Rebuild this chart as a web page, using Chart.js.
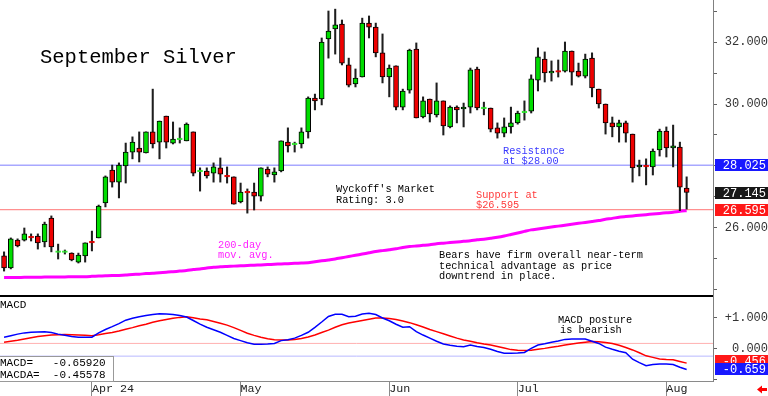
<!DOCTYPE html>
<html><head><meta charset="utf-8">
<script src="https://cdn.jsdelivr.net/npm/chart.js@4.4.1/dist/chart.umd.min.js"></script>
<style>
html,body{margin:0;padding:0;background:#fff;}
#wrap{position:relative;width:768px;height:396px;overflow:hidden;background:#fff;}
canvas{position:absolute;left:0;}
#c1{top:0;width:768px;height:297px;}
#c2{top:297px;width:768px;height:99px;}
</style></head><body>
<div id="wrap"><canvas id="c1" width="768" height="297"></canvas><canvas id="c2" width="768" height="99"></canvas></div>
<script>
// ---- data (index = trading day, Mar 12 .. Aug 6, 2024) ----
const monthTicks  = [13, 35, 57, 76, 98];
const monthLabels = ["Apr 24", "May", "Jun", "Jul", "Aug"];

const open = [
25.10, 24.71, 25.61, 25.61, 25.73, 25.74, 25.55, 26.32, 25.21, 25.21,
25.19, 24.90, 25.10, 25.57, 25.68, 26.81, 27.87, 27.48, 28.00, 28.45,
28.58, 28.42, 29.10, 28.77, 29.61, 28.74, 28.85, 28.81, 29.10, 27.82,
27.84, 27.77, 27.94, 27.70, 27.65, 26.84, 27.18, 27.16, 27.03, 27.90,
27.71, 27.84, 28.77, 28.69, 28.71, 29.10, 30.19, 30.16, 32.10, 32.42,
32.58, 31.26, 30.65, 30.87, 32.61, 32.48, 31.65, 30.87, 31.23, 29.90,
30.45, 31.77, 29.58, 30.16, 29.65, 30.10, 29.26, 29.90, 29.84, 29.90,
31.13, 29.85, 29.87, 29.23, 29.06, 29.26, 29.39, 29.72, 29.77, 30.77,
31.45, 31.00, 31.08, 31.06, 31.71, 31.06, 30.90, 31.48, 30.48, 30.00,
29.39, 29.26, 29.39, 29.03, 27.97, 28.02, 27.97, 28.52, 29.13, 28.58,
28.61, 27.29];
const high = [
25.23, 25.68, 25.65, 26.00, 25.81, 25.81, 26.19, 26.39, 25.48, 25.29,
25.20, 25.19, 25.52, 25.90, 26.74, 27.68, 28.03, 28.10, 28.74, 28.94,
29.10, 29.10, 30.48, 29.45, 29.61, 29.42, 29.23, 29.39, 29.10, 27.94,
27.94, 28.10, 28.26, 27.97, 27.65, 27.45, 27.26, 27.45, 27.94, 27.97,
27.94, 28.81, 29.23, 28.77, 29.23, 30.23, 30.32, 32.13, 33.00, 33.06,
32.71, 31.48, 31.13, 32.77, 32.84, 32.61, 32.26, 31.26, 31.23, 30.48,
31.77, 31.97, 30.23, 30.16, 30.68, 30.10, 29.94, 29.94, 30.03, 31.16,
31.19, 30.06, 29.87, 29.39, 29.55, 29.90, 29.77, 30.10, 30.94, 31.81,
31.68, 31.39, 31.42, 32.00, 31.71, 31.32, 31.61, 31.65, 30.48, 30.00,
29.58, 29.48, 29.45, 29.03, 28.19, 28.23, 28.55, 29.19, 29.26, 29.32,
28.77, 27.65];
const low = [
24.61, 24.68, 25.39, 25.58, 25.58, 25.32, 25.39, 25.23, 25.00, 25.16,
24.94, 24.87, 24.90, 25.26, 25.68, 26.68, 27.32, 26.97, 27.45, 28.23,
28.13, 28.42, 28.58, 28.23, 28.58, 28.71, 28.74, 28.81, 27.68, 27.19,
27.61, 27.48, 27.48, 27.45, 26.77, 26.81, 26.48, 26.58, 26.87, 27.65,
27.48, 27.81, 28.45, 28.45, 28.58, 28.90, 29.81, 29.97, 31.48, 31.61,
31.26, 30.55, 30.55, 30.87, 32.13, 31.52, 30.68, 30.23, 29.81, 29.81,
30.35, 29.55, 29.55, 29.42, 29.58, 29.00, 29.23, 29.39, 29.26, 29.71,
29.81, 29.65, 29.10, 28.90, 28.94, 29.06, 29.35, 29.48, 29.71, 30.42,
30.71, 30.74, 30.87, 31.03, 30.61, 30.87, 30.84, 30.23, 29.87, 29.03,
28.94, 28.77, 28.77, 27.48, 27.68, 27.39, 27.71, 28.32, 28.29, 27.97,
26.56, 26.61];
const close = [
24.71, 25.65, 25.42, 25.81, 25.68, 25.52, 26.13, 25.39, 25.26, 25.26,
24.97, 25.13, 25.52, 25.52, 26.71, 27.65, 27.48, 28.03, 28.45, 28.77,
28.45, 29.10, 28.71, 29.45, 28.77, 28.87, 28.90, 29.35, 27.77, 27.87,
27.68, 27.97, 27.74, 27.65, 26.77, 27.16, 27.13, 27.03, 27.94, 27.74,
27.81, 28.81, 28.65, 28.74, 29.10, 30.19, 30.10, 32.00, 32.35, 32.55,
31.32, 30.61, 30.84, 32.61, 32.48, 31.65, 30.87, 31.16, 29.90, 30.42,
31.74, 29.55, 30.10, 29.68, 30.10, 29.29, 29.90, 29.81, 29.90, 31.10,
29.87, 29.90, 29.19, 29.06, 29.26, 29.39, 29.71, 29.77, 30.81, 31.52,
31.00, 31.06, 31.03, 31.71, 31.03, 30.90, 31.45, 30.52, 30.00, 29.39,
29.26, 29.39, 29.06, 27.94, 28.03, 27.97, 28.48, 29.13, 28.58, 28.65,
27.32, 27.145];
const ma200 = [
24.40, 24.40, 24.40, 24.41, 24.41, 24.41, 24.42, 24.42, 24.42, 24.42,
24.43, 24.43, 24.43, 24.44, 24.45, 24.46, 24.47, 24.47, 24.48, 24.50,
24.51, 24.53, 24.54, 24.56, 24.57, 24.59, 24.61, 24.63, 24.66, 24.68,
24.71, 24.73, 24.75, 24.76, 24.77, 24.78, 24.79, 24.80, 24.81, 24.82,
24.83, 24.84, 24.85, 24.86, 24.87, 24.88, 24.91, 24.94, 24.97, 25.00,
25.04, 25.08, 25.12, 25.16, 25.20, 25.24, 25.27, 25.30, 25.33, 25.37,
25.40, 25.42, 25.44, 25.46, 25.49, 25.51, 25.53, 25.55, 25.57, 25.59,
25.62, 25.64, 25.67, 25.70, 25.74, 25.79, 25.84, 25.89, 25.94, 25.97,
26.00, 26.03, 26.06, 26.09, 26.12, 26.15, 26.18, 26.21, 26.24, 26.28,
26.31, 26.35, 26.37, 26.39, 26.41, 26.43, 26.45, 26.47, 26.49, 26.51,
26.54, 26.56];
const macd = [
0.38, 0.43, 0.48, 0.52, 0.54, 0.55, 0.56, 0.53, 0.48, 0.44,
0.40, 0.38, 0.38, 0.38, 0.52, 0.63, 0.72, 0.82, 0.93, 0.99,
1.04, 1.08, 1.11, 1.14, 1.13, 1.11, 1.08, 1.03, 0.92, 0.80,
0.70, 0.62, 0.54, 0.44, 0.34, 0.27, 0.20, 0.15, 0.15, 0.16,
0.18, 0.27, 0.30, 0.35, 0.44, 0.54, 0.70, 0.87, 1.05, 1.12,
1.12, 1.04, 1.06, 1.13, 1.15, 1.11, 1.00, 0.91, 0.80, 0.70,
0.72, 0.56, 0.45, 0.35, 0.25, 0.16, 0.12, 0.09, 0.07, 0.13,
0.08, 0.05, -0.01, -0.08, -0.14, -0.14, -0.13, -0.11, 0.02, 0.13,
0.17, 0.22, 0.26, 0.31, 0.32, 0.32, 0.32, 0.25, 0.18, 0.06,
-0.01, -0.07, -0.12, -0.33, -0.44, -0.54, -0.50, -0.48, -0.48, -0.50,
-0.59, -0.659];
const macdSignal = [
0.22, 0.25, 0.28, 0.32, 0.36, 0.40, 0.43, 0.45, 0.46, 0.47,
0.46, 0.45, 0.44, 0.43, 0.46, 0.50, 0.53, 0.58, 0.64, 0.69,
0.75, 0.80, 0.86, 0.91, 0.95, 0.99, 1.02, 1.04, 1.01, 0.97,
0.94, 0.89, 0.83, 0.77, 0.69, 0.60, 0.51, 0.44, 0.38, 0.33,
0.30, 0.29, 0.29, 0.31, 0.34, 0.39, 0.45, 0.53, 0.61, 0.70,
0.78, 0.84, 0.88, 0.92, 0.96, 1.00, 1.00, 0.98, 0.95, 0.90,
0.85, 0.78, 0.71, 0.63, 0.56, 0.49, 0.42, 0.35, 0.29, 0.25,
0.20, 0.16, 0.13, 0.08, 0.03, -0.02, -0.04, -0.05, -0.04, -0.01,
0.02, 0.06, 0.09, 0.13, 0.16, 0.19, 0.22, 0.24, 0.23, 0.21,
0.18, 0.12, 0.05, -0.03, -0.12, -0.22, -0.27, -0.32, -0.34, -0.35,
-0.40, -0.456];

const resistance = 28.025;
const lastPrice  = 27.145;
const support    = 26.595;
const priceTickLabels = [26, 28, 30, 32];
const macdValue  = -0.65920;
const macdaValue = -0.45578;
const macdUpperLine = 0.18;
const macdLowerLine = -0.23;

// ---- presentation ----
const MONO = '"Liberation Mono", "DejaVu Sans Mono", monospace';
const X_MIN = -0.6, X_MAX = 104.9;
const GREEN = '#00dd00', RED = '#ee0000';

function fixY(s){ s.width = 55; s.paddingTop = 0; s.paddingBottom = 0; }
function isUp(i){ return close[i] >= open[i]; }
function isCross(i){ return Math.abs(close[i] - open[i]) < 0.055; }

function box(ctx, y, bg, text){
  ctx.fillStyle = bg;
  ctx.fillRect(715, Math.round(y) - 6, 53, 12);
  ctx.fillStyle = '#fff';
  ctx.font = '12px ' + MONO;
  ctx.textAlign = 'right';
  ctx.textBaseline = 'middle';
  ctx.fillText(text, 766, Math.round(y) + 0.5);
}
function txt(ctx, t, x, y, c, size){
  ctx.fillStyle = c;
  ctx.font = size + 'px ' + MONO;
  ctx.textAlign = 'left';
  ctx.textBaseline = 'alphabetic';
  ctx.fillText(t, x, y);
}

const pricePlugin = {
  id: 'priceDecor',
  afterDraw(chart){
    const ctx = chart.ctx, ys = chart.scales.y, a = chart.chartArea;
    ctx.save();
    ctx.fillStyle = '#000';
    ctx.fillRect(0, a.bottom - 2, a.right, 2);
    txt(ctx, 'September Silver', 40, 63, '#000', 20.5);
    const S = 10.3;
    txt(ctx, "Wyckoff's Market", 336, 192, '#000', S);
    txt(ctx, 'Rating: 3.0', 336, 203, '#000', S);
    txt(ctx, 'Resistance', 503, 153.5, '#3a3aff', S);
    txt(ctx, 'at $28.00', 503, 164, '#3a3aff', S);
    txt(ctx, 'Support at', 476, 197.5, '#ff3a3a', S);
    txt(ctx, '$26.595', 476, 208, '#ff3a3a', S);
    txt(ctx, '200-day', 218, 247.5, '#ff22ff', S);
    txt(ctx, 'mov. avg.', 218, 258, '#ff22ff', S);
    txt(ctx, 'Bears have firm overall near-term', 439, 258, '#000', S);
    txt(ctx, 'technical advantage as price', 439, 268.5, '#000', S);
    txt(ctx, 'downtrend in place.', 439, 279, '#000', S);
    box(ctx, ys.getPixelForValue(resistance), '#1818ff', resistance.toFixed(3));
    box(ctx, ys.getPixelForValue(lastPrice), '#181818', lastPrice.toFixed(3));
    box(ctx, ys.getPixelForValue(support), '#ff1818', support.toFixed(3));
    ctx.restore();
  }
};

const macdPlugin = {
  id: 'macdDecor',
  afterDraw(chart){
    const ctx = chart.ctx, ys = chart.scales.y;
    ctx.save();
    txt(ctx, 'MACD', 0, 11, '#000', 11);
    txt(ctx, 'MACD posture', 558, 25.5, '#000', 10.3);
    txt(ctx, 'is bearish', 560, 36, '#000', 10.3);
    ctx.fillStyle = '#fff';
    ctx.fillRect(0, 59, 114, 25);
    ctx.strokeStyle = '#999';
    ctx.lineWidth = 1;
    ctx.strokeRect(-0.5, 59.5, 114, 25);
    txt(ctx, 'MACD=   ' + macdValue.toFixed(5), 0, 69, '#000', 11);
    txt(ctx, 'MACDA=  ' + macdaValue.toFixed(5), 0, 80.5, '#000', 11);
    box(ctx, ys.getPixelForValue(macdaValue) - 2, '#ff1818', macdaValue.toFixed(3));
    box(ctx, ys.getPixelForValue(macdValue), '#1818ff', macdValue.toFixed(3));
    // red arrow (bottom right)
    ctx.fillStyle = '#ff0000';
    ctx.beginPath();
    ctx.moveTo(757, 92.5); ctx.lineTo(762, 88.5); ctx.lineTo(762, 96.5); ctx.closePath(); ctx.fill();
    ctx.fillRect(761, 91, 6, 3);
    ctx.restore();
  }
};

const pts = arr => arr.map((v, i) => ({x: i, y: v}));

new Chart(document.getElementById('c1'), {
  type: 'bar',
  data: {
    datasets: [
      { type: 'line', data: [{x: X_MIN, y: resistance}, {x: X_MAX, y: resistance}],
        borderColor: '#a8a8ff', borderWidth: 1.6, pointRadius: 0, order: 6 },
      { type: 'line', data: [{x: X_MIN, y: support}, {x: X_MAX, y: support}],
        borderColor: '#ff9090', borderWidth: 1.2, pointRadius: 0, order: 5 },
      { type: 'line', data: pts(ma200), borderColor: '#ff00ff', borderWidth: 3,
        pointRadius: 0, tension: 0.2, order: 4 },
      { type: 'bar', data: low.map((l, i) => ({x: i, y: [l, high[i]]})),
        backgroundColor: '#1e1e1e', borderWidth: 0, barThickness: 1.4, grouped: false, order: 3 },
      { type: 'bar', data: open.map((o, i) => ({x: i, y: [o, close[i]]})),
        backgroundColor: c => (c.dataIndex === undefined || isUp(c.dataIndex)) ? (c.dataIndex !== undefined && isCross(c.dataIndex) ? '#33ee33' : GREEN) : RED,
        borderColor: c => {
          if (c.dataIndex === undefined) return '#000';
          if (isCross(c.dataIndex)) return isUp(c.dataIndex) ? '#33ee33' : RED;
          return '#000';
        },
        borderWidth: 1, borderSkipped: false, barThickness: 5, grouped: false, order: 1 }
    ]
  },
  options: {
    responsive: false, animation: false, maintainAspectRatio: false,
    layout: {padding: 0},
    plugins: {legend: {display: false}, tooltip: {enabled: false}},
    scales: {
      x: { type: 'linear', min: X_MIN, max: X_MAX, display: false, offset: false, grid: {offset: false} },
      y: { position: 'right', min: 23.774, max: 33.355, beginAtZero: false,
        afterFit: fixY,
        border: {display: true, color: '#808080', width: 1},
        grid: {drawOnChartArea: false, drawTicks: true, tickLength: 4, color: '#606060'},
        ticks: { stepSize: 1, includeBounds: false, autoSkip: false, padding: 6, crossAlign: 'far',
          color: '#333', font: {family: MONO, size: 12},
          callback: v => priceTickLabels.some(p => Math.abs(p - v) < 1e-6) ? Number(v).toFixed(3) : '' } }
    }
  },
  plugins: [pricePlugin]
});

new Chart(document.getElementById('c2'), {
  type: 'line',
  data: {
    datasets: [
      { data: [{x: X_MIN, y: macdUpperLine}, {x: X_MAX, y: macdUpperLine}], borderColor: '#ffb0b0', borderWidth: 1, pointRadius: 0, order: 5 },
      { data: [{x: X_MIN, y: macdLowerLine}, {x: X_MAX, y: macdLowerLine}], borderColor: '#b8b8ff', borderWidth: 1, pointRadius: 0, order: 4 },
      { data: pts(macdSignal), borderColor: '#ff0000', borderWidth: 1.5, pointRadius: 0, tension: 0, order: 2 },
      { data: pts(macd), borderColor: '#0000ff', borderWidth: 1.5, pointRadius: 0, tension: 0, order: 1 }
    ]
  },
  options: {
    responsive: false, animation: false, maintainAspectRatio: false,
    layout: {padding: 0},
    plugins: {legend: {display: false}, tooltip: {enabled: false}},
    scales: {
      x: { type: 'linear', min: X_MIN, max: X_MAX, position: 'bottom',
        afterFit: s => { s.height = 15; s.paddingLeft = 0; s.paddingRight = 0; },
        afterBuildTicks: s => { s.ticks = monthTicks.map(v => ({value: v})); },
        border: {display: true, color: '#8a8a8a', width: 1},
        grid: {drawOnChartArea: false, drawTicks: true, tickLength: 15, color: '#8a8a8a'},
        ticks: { align: 'start', padding: -14, autoSkip: false, maxRotation: 0, minRotation: 0,
          color: '#222', font: {family: MONO, size: 11.7},
          callback: (v, i) => monthLabels[i] } },
      y: { position: 'right', min: -1.0323, max: 1.6774,
        afterFit: fixY,
        border: {display: true, color: '#808080', width: 1},
        grid: {drawOnChartArea: false, drawTicks: true, tickLength: 4, color: '#606060'},
        ticks: { stepSize: 1, includeBounds: false, autoSkip: false, padding: 6, crossAlign: 'far',
          color: '#333', font: {family: MONO, size: 12},
          callback: v => Math.abs(v - 1) < 1e-6 ? '+1.000' : (Math.abs(v) < 1e-6 ? '0.000' : '') } }
    }
  },
  plugins: [macdPlugin]
});
</script>
</body></html>
